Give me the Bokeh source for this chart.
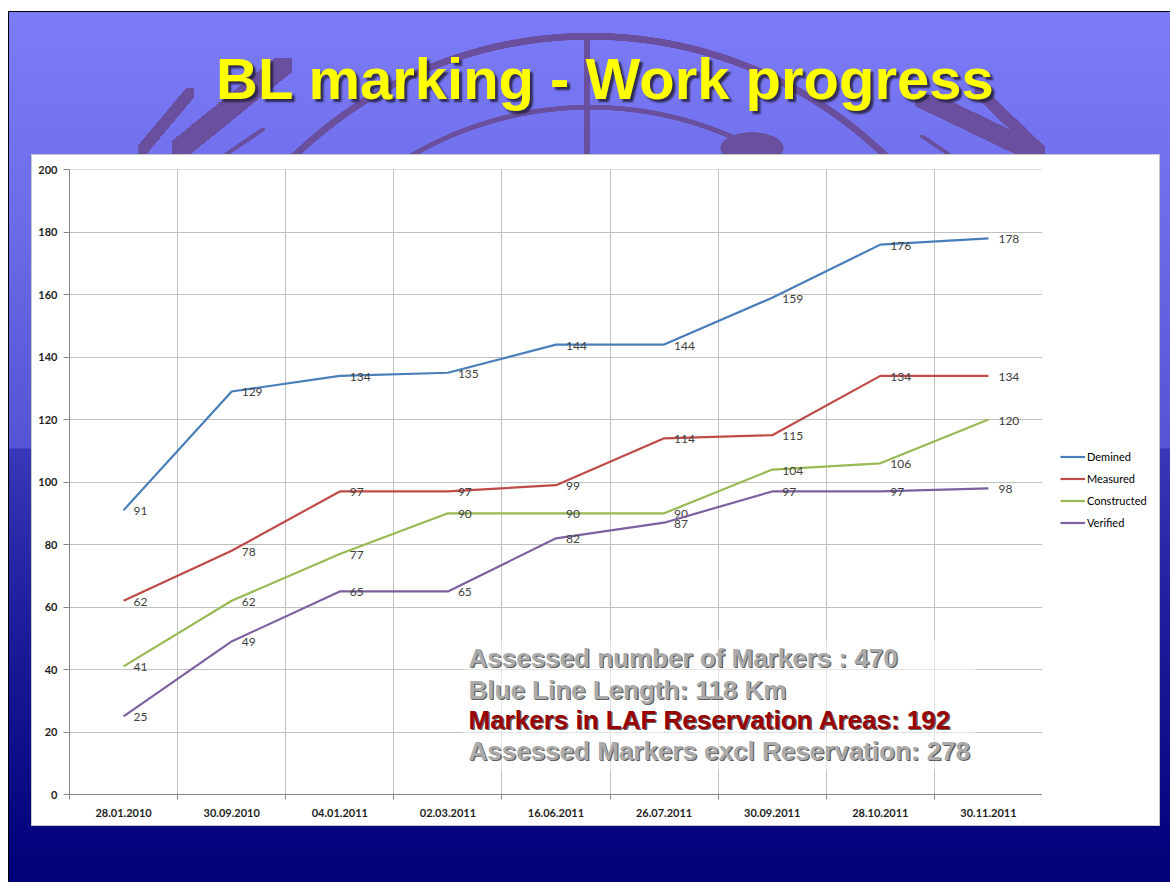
from bokeh.plotting import figure
from bokeh.layouts import column, row
from bokeh.models import (Range1d, FixedTicker, SingleIntervalTicker, Legend, LegendItem,
                          Label, BoxAnnotation, CustomJSTickFormatter, Div)
from bokeh.core.properties import value
from bokeh.embed import file_html
from bokeh.resources import INLINE

# ---------------- data ----------------
dates = ["28.01.2010", "30.09.2010", "04.01.2011", "02.03.2011", "16.06.2011",
         "26.07.2011", "30.09.2011", "28.10.2011", "30.11.2011"]
demined = [91, 129, 134, 135, 144, 144, 159, 176, 178]
measured = [62, 78, 97, 97, 99, 114, 115, 134, 134]
constructed = [41, 62, 77, 90, 90, 90, 104, 106, 120]
verified = [25, 49, 65, 65, 82, 87, 97, 97, 98]
series_names = ["Demined", "Measured", "Constructed", "Verified"]
series_colors = ["#4a7ebb", "#be4b48", "#98b954", "#7d60a0"]
title_text = "BL marking - Work progress"
note_lines = ["Assessed number of Markers : 470",
              "Blue Line Length: 118 Km",
              "Markers in LAF Reservation Areas: 192",
              "Assessed Markers excl Reservation: 278"]
note_colors = ["#ababab", "#ababab", "#990000", "#ababab"]

series_values = [demined, measured, constructed, verified]
xs = [i + 0.5 for i in range(len(dates))]
bounds = list(range(len(dates) + 1))

# ---------------- title (HTML) ----------------
title_div = Div(
    text=("<div style=\"margin:0;padding:50px 0 0 216px;font-family:'Liberation Sans',Arial,sans-serif;"
          "font-weight:bold;font-size:58px;line-height:58px;color:#ffff00;white-space:nowrap;"
          "text-shadow:3px 3px 2px rgba(35,30,60,0.85);\">" + title_text + "</div>"),
    width=1170, height=155, margin=(0, 0, 0, 0))

# ---------------- main chart ----------------
p = figure(width=1042, height=727,
           min_border_left=69, min_border_right=0,
           min_border_top=14, min_border_bottom=88,
           x_range=Range1d(0, len(dates)), y_range=Range1d(0, 200.05),
           output_backend="svg", toolbar_location=None, margin=(0, 0, 0, 0))

p.background_fill_color = "white"
p.border_fill_alpha = 0
p.outline_line_color = None

for name, vals, color in zip(series_names, series_values, series_colors):
    p.line(xs, vals, line_color=color, line_width=2.2)
    p.text(x=xs, y=vals, text=[str(v) for v in vals], x_offset=10, y_offset=1,
           text_baseline="middle", text_align="left",
           text_font=value("Lato"), text_font_size="12px", text_color="#404040")

p.xaxis.ticker = FixedTicker(ticks=xs, minor_ticks=bounds)
p.xaxis.formatter = CustomJSTickFormatter(args=dict(labels=dates),
                                          code="return labels[Math.floor(tick)] || '';")
p.xaxis.major_tick_line_color = None
p.xaxis.major_tick_out = 0
p.xaxis.major_tick_in = 0
p.xaxis.minor_tick_line_color = "#868686"
p.xaxis.minor_tick_out = 5
p.xaxis.minor_tick_in = 0
p.xaxis.major_label_standoff = 9

p.yaxis.ticker = SingleIntervalTicker(interval=20, num_minor_ticks=0)
p.yaxis.major_tick_out = 6
p.yaxis.major_tick_in = 0
p.yaxis.major_tick_line_color = "#868686"
p.yaxis.minor_tick_line_color = None
p.yaxis.major_label_standoff = 6

for ax in (p.xaxis, p.yaxis):
    ax.axis_line_color = "#868686"
    ax.major_label_text_font = "Lato"
    ax.major_label_text_font_style = "bold"
    ax.major_label_text_font_size = "11px"
    ax.major_label_text_color = "#1e1e1e"

p.xgrid.ticker = FixedTicker(ticks=bounds)
p.xgrid.grid_line_color = "#c0c0c0"
p.ygrid.grid_line_color = "#c0c0c0"

# notes box and text
p.add_layout(BoxAnnotation(left=462, right=975, top=485, bottom=615,
                           left_units="canvas", right_units="canvas",
                           top_units="canvas", bottom_units="canvas",
                           fill_color="white", fill_alpha=0.55, line_color=None))

note_y = [137, 105, 75, 44]
for txt, col, yy in zip(note_lines, note_colors, note_y):
    p.add_layout(Label(x=400.3, y=yy - 1.3, x_units="screen", y_units="screen", text=txt,
                       text_font="Liberation Sans", text_font_style="bold",
                       text_font_size="26px", text_color="#444444", text_alpha=0.85,
                       text_baseline="alphabetic"))
    p.add_layout(Label(x=399, y=yy, x_units="screen", y_units="screen", text=txt,
                       text_font="Liberation Sans", text_font_style="bold",
                       text_font_size="26px", text_color=col,
                       text_baseline="alphabetic"))

# ---------------- legend panel ----------------
# Series are drawn here outside this panel's visible range; only their legend swatches show.
lg = figure(width=128, height=727, min_border=0, x_range=Range1d(0, 1), y_range=Range1d(-2, -1),
            x_axis_location=None, y_axis_location=None,
            output_backend="svg", toolbar_location=None, margin=(0, 0, 0, 0))
lg.background_fill_alpha = 0
lg.border_fill_alpha = 0
lg.outline_line_color = None
lg.grid.visible = False
items = []
for name, vals, color in zip(series_names, series_values, series_colors):
    rr = lg.line(xs, vals, line_color=color, line_width=2.2)
    items.append(LegendItem(label=name, renderers=[rr]))
legend = Legend(items=items, location=(18, 262), orientation="vertical",
                border_line_color=None, background_fill_alpha=0,
                label_text_font="Lato", label_text_font_size="11px",
                label_text_color="#000000", glyph_width=25, glyph_height=19,
                label_height=19, spacing=3, label_standoff=2, padding=0, margin=0)
lg.add_layout(legend)

# ---------------- slide background (CSS) ----------------
E = "#6a4f9e"
def band(direction, x, y, w, h, half):
    return (f"linear-gradient({direction}, transparent calc(50% - {half}px), {E} calc(50% - {half}px), "
            f"{E} calc(50% + {half}px), transparent calc(50% + {half}px)) {x}px {y}px / {w}px {h}px no-repeat")

def ring(cx, cy, r, t):
    return (f"radial-gradient(circle at {cx}px {cy}px, transparent {r - t}px, {E} {r - t + 0.5}px, "
            f"{E} {r}px, transparent {r + 0.5}px) 0 0 / 1170px 155px no-repeat")

layers = [
    "linear-gradient(#ffffff,#ffffff) 32px 155px / 1127px 670px no-repeat",
    "linear-gradient(#c8c8c8,#c8c8c8) 31px 154px / 1129px 672px no-repeat",
    f"linear-gradient({E},{E}) 584px 33px / 6px 122px no-repeat",
    band("to bottom right", 172, 58, 120, 97, 11),
    band("to bottom right", 138, 88, 56, 67, 6),
    band("to bottom right", 225, 128, 40, 27, 2),
    band("to top right", 915, 95, 125, 60, 10),
    band("to top right", 975, 88, 70, 67, 6),
    band("to top right", 920, 135, 30, 20, 2),
    f"radial-gradient(ellipse 32px 16px at 752px 148px, {E} 97%, transparent 100%) 0 0 / 1170px 155px no-repeat",
    ring(590, 461, 428, 7),
    ring(590, 461, 356, 5),
    ("linear-gradient(to bottom, #7c7cf8 0px, #6d6de9 200px, #5454d4 436px, #3838b8 437px, "
     "#1c1c9a 620px, #05057f 822px, #000078 870px) 9px 12px / 1161px 870px no-repeat"),
    "linear-gradient(#000,#000) 8px 11px / 1162px 871px no-repeat",
    "#ffffff",
]

layout = column(title_div, row(p, lg, spacing=0), spacing=0, width=1170, height=882)
layout.styles = {"background": ", ".join(layers)}

open("out.html", "w").write(file_html(layout, INLINE))
